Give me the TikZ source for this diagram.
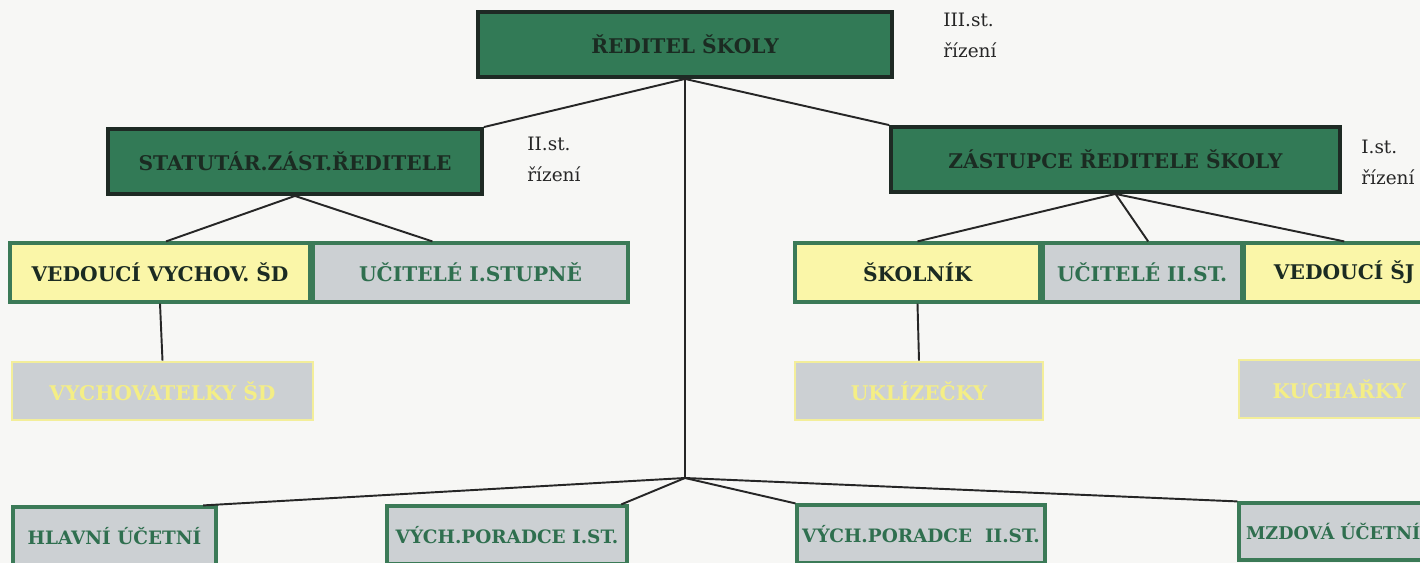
\documentclass[tikz,border=0pt]{standalone}
\usepackage{fontspec}
\setmainfont{DejaVu Serif}
\usetikzlibrary{positioning,calc}

\definecolor{podklad}{HTML}{F7F7F5}
\definecolor{tmzel}{HTML}{327A56}
\definecolor{tmram}{HTML}{1E2A24}
\definecolor{tmtext}{HTML}{1B2B22}
\definecolor{zlut}{HTML}{FAF6A8}
\definecolor{sed}{HTML}{CCD0D3}
\definecolor{zelram}{HTML}{3B7A57}
\definecolor{zeltext}{HTML}{2F6F4F}
\definecolor{zlram}{HTML}{F3EE9A}
\definecolor{zltext}{HTML}{F4EE86}

\begin{document}
\begin{tikzpicture}[
            x=0.02cm, y=-0.02cm,
            box/.style={
                rectangle,
                inner sep=0pt,
                font=\bfseries\fontsize{11.5}{13}\selectfont
            },
            vedeni/.style={box, draw=tmram, line width=2.2pt, fill=tmzel, text=tmtext, minimum height=1.3cm},
            zluta/.style={box, draw=zelram, line width=1.8pt, fill=zlut, text=tmtext, minimum height=1.18cm},
            seda/.style={box, draw=zelram, line width=1.8pt, fill=sed, text=zeltext, minimum height=1.18cm},
            dole/.style={seda, font=\bfseries\fontsize{10.5}{12}\selectfont, minimum height=1.16cm},
            podriz/.style={box, draw=zlram, line width=1.5pt, fill=sed, text=zltext, minimum height=1.16cm},
            stupen/.style={align=left, inner sep=0pt, anchor=north west, font=\fontsize{10.5}{17.5}\selectfont, text=black!85},
            spoj/.style={line width=1.1pt, draw=black!85}
        ]
            \useasboundingbox (0,0) rectangle (1420,563);
            \fill[podklad] (0,0) rectangle (1420,563);
            \clip (0,0) rectangle (1420,563);

            % vedeni
            \node[vedeni, minimum width=8.28cm] (rs) at (685,44.5) {ŘEDITEL ŠKOLY};
            \node[vedeni, minimum width=7.48cm] (stat) at (295,161.5) {STATUTÁR.ZÁST.ŘEDITELE};
            \node[vedeni, minimum width=8.98cm] (zast) at (1115.5,159.5) {ZÁSTUPCE ŘEDITELE ŠKOLY};

            % stupne rizeni
            \node[stupen] (s3) at (943,13) {III.st.\\řízení};
            \node[stupen] (s2) at (527,137) {II.st.\\řízení};
            \node[stupen] (s1) at (1361,140) {I.st.\\řízení};

            % druha rada
            \node[zluta, minimum width=6cm] (vv) at (160,272.5) {VEDOUCÍ VYCHOV. ŠD};
            \node[seda, minimum width=6.3cm, right=0pt of vv] (u1) {UČITELÉ I.STUPNĚ};
            \node[zluta, minimum width=4.9cm] (sk) at (917.5,272.5) {ŠKOLNÍK};
            \node[seda, minimum width=3.96cm, right=0pt of sk] (u2) {UČITELÉ II.ST.};
            \node[zluta, minimum width=4cm, right=0pt of u2] (vsj) {VEDOUCÍ ŠJ};

            % treti rada
            \node[podriz, minimum width=6.02cm] (vch) at (162.5,391) {VYCHOVATELKY ŠD};
            \node[podriz, minimum width=4.96cm] (ukl) at (919,391) {UKLÍZEČKY};
            \node[podriz, minimum width=4.02cm] (kuch) at (1339.5,389) {KUCHAŘKY};

            % spodni rada
            \node[dole, minimum width=4.06cm] (hl) at (114.5,536) {HLAVNÍ ÚČETNÍ};
            \node[dole, minimum width=4.8cm] (v1) at (507,535) {VÝCH.PORADCE I.ST.};
            \node[dole, minimum width=4.96cm] (v2) at (921,534) {VÝCH.PORADCE~~II.ST.};
            \node[dole, font=\bfseries\fontsize{10}{12}\selectfont, minimum width=4.02cm, minimum height=1.14cm, text width=3.74cm, align=left] (mz) at (1339.5,531.5) {MZDOVÁ ÚČETNÍ};

            \coordinate (hub) at (685,478);

            % spoje
            \draw[spoj] (rs.south) -- (stat.north east);
            \draw[spoj] (rs.south) -- (zast.north west);
            \draw[spoj] (rs.south) -- (hub);
            \draw[spoj] (stat.south) -- ($(vv.north west)!0.52!(vv.north east)$);
            \draw[spoj] (stat.south) -- ($(u1.north west)!0.38!(u1.north east)$);
            \draw[spoj] (zast.south) -- (sk.north);
            \draw[spoj] (zast.south) -- ($(u2.north west)!0.53!(u2.north east)$);
            \draw[spoj] (zast.south) -- (vsj.north);
            \draw[spoj] (vv.south) -- (vch.north);
            \draw[spoj] (sk.south) -- (ukl.north);
            \draw[spoj] (hub) -- ($(hl.north west)!0.93!(hl.north east)$);
            \draw[spoj] (hub) -- ($(v1.north west)!0.97!(v1.north east)$);
            \draw[spoj] (hub) -- (v2.north west);
            \draw[spoj] (hub) -- (mz.north west);
        \end{tikzpicture}
\end{document}
